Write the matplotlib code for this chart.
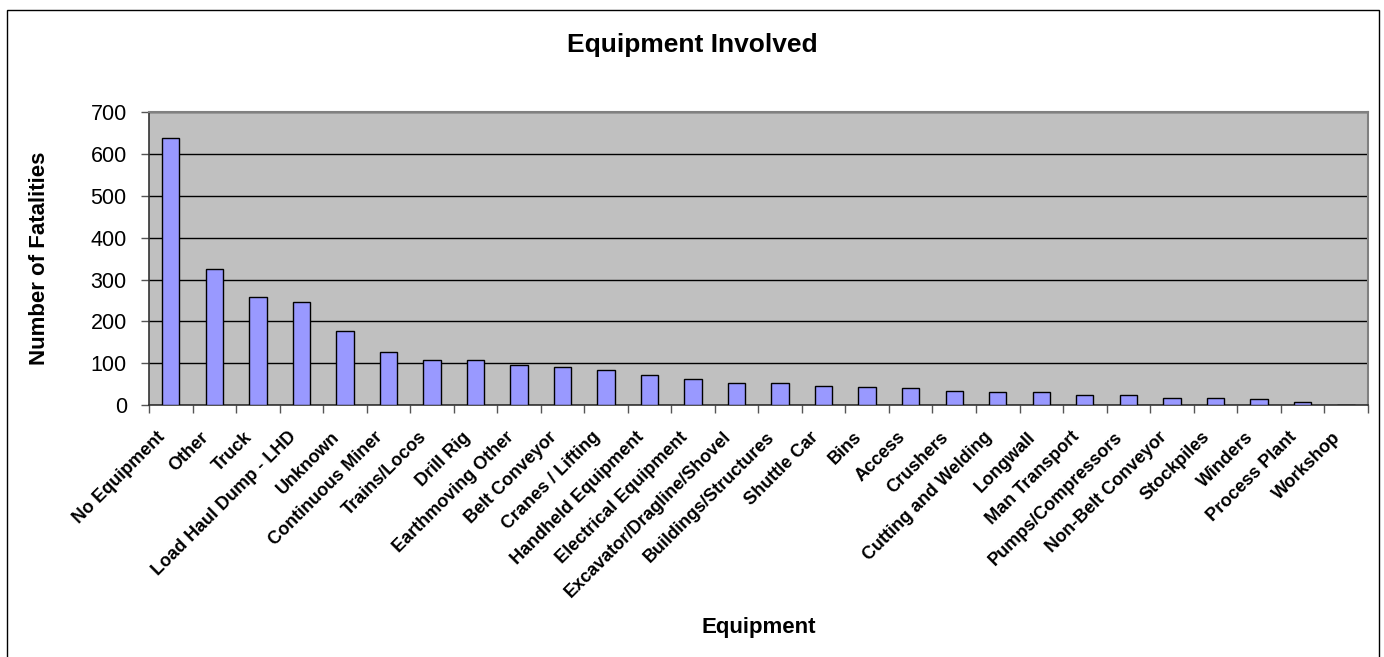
import matplotlib
matplotlib.use("Agg")
import matplotlib.pyplot as plt
from matplotlib.patches import Rectangle
from matplotlib.transforms import ScaledTranslation
import numpy as np

categories = ["No Equipment", "Other", "Truck", "Load Haul Dump - LHD", "Unknown",
              "Continuous Miner", "Trains/Locos", "Drill Rig", "Earthmoving Other",
              "Belt Conveyor", "Cranes / Lifting", "Handheld Equipment",
              "Electrical Equipment", "Excavator/Dragline/Shovel", "Buildings/Structures",
              "Shuttle Car", "Bins", "Access", "Crushers", "Cutting and Welding",
              "Longwall", "Man Transport", "Pumps/Compressors", "Non-Belt Conveyor",
              "Stockpiles", "Winders", "Process Plant", "Workshop"]
fatalities = [638, 325, 259, 247, 177, 127, 108, 108, 95, 92, 83, 72, 63, 53, 53,
              46, 43, 40, 34, 31, 31, 25, 25, 17, 17, 14, 7, 0]
yticks = [0, 100, 200, 300, 400, 500, 600, 700]

plt.rcParams['font.family'] = ['Liberation Sans', 'DejaVu Sans']

W, H = 1384, 657
fig = plt.figure(figsize=(W / 100, H / 100), dpi=100)
fig.patch.set_facecolor('white')

# outer chart border
fig.add_artist(Rectangle((7 / W, -0.02), (1379 - 7) / W, 1 - 10 / H + 0.02,
                         transform=fig.transFigure, fill=False,
                         edgecolor='black', linewidth=1.0))

left, right, top, bottom = 149 / W, 1367.7 / W, 1 - 112.3 / H, 1 - 405 / H
ax = fig.add_axes([left, bottom, right - left, top - bottom])
ax.set_facecolor('#C0C0C0')

x = np.arange(len(categories))
ax.bar(x, fatalities, width=0.4, color='#9999FF', edgecolor='black', linewidth=1.0, zorder=3)

ax.set_xlim(-0.5, len(categories) - 0.5)
ax.set_ylim(0, 700)
ax.set_yticks(yticks)
ax.set_yticklabels([str(v) for v in yticks], fontsize=15.5)
ax.yaxis.grid(True, color='black', linewidth=1.0, zorder=0)
ax.set_axisbelow(True)
ax.tick_params(axis='y', direction='out', length=6, width=1, color='#555555', pad=10)

ax.set_xticks(x)
ax.set_xticklabels(categories, rotation=45, ha='right', rotation_mode='anchor',
                   fontsize=13, fontweight='bold')
ax.tick_params(axis='x', which='major', length=0, pad=17)
offset = ScaledTranslation(-14 / 100, 0, fig.dpi_scale_trans)
for lab in ax.get_xticklabels():
    lab.set_transform(lab.get_transform() + offset)
ax.set_xticks(np.arange(-0.5, len(categories), 1.0), minor=True)
ax.tick_params(axis='x', which='minor', direction='out', length=6, width=1, color='#555555')

for s in ['top', 'right']:
    ax.spines[s].set_color('#808080')
    ax.spines[s].set_linewidth(1.5)
for s in ['left', 'bottom']:
    ax.spines[s].set_color('#333333')
    ax.spines[s].set_linewidth(1.2)

fig.text(0.5, 1 - 45 / H, "Equipment Involved", ha='center', va='center',
         fontsize=19, fontweight='bold')
fig.text(759 / W, 1 - 628 / H, "Equipment", ha='center', va='center',
         fontsize=16, fontweight='bold')
fig.text(40 / W, 1 - 258 / H, "Number of Fatalities", ha='center', va='center',
         rotation=90, fontsize=16, fontweight='bold')

fig.savefig("out.png", dpi=100, facecolor='white')
